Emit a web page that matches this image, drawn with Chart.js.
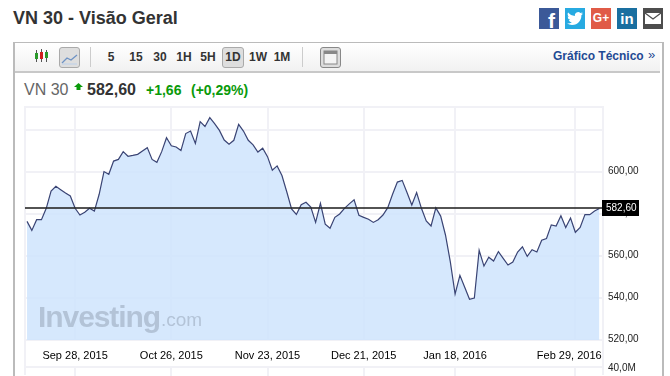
<!DOCTYPE html>
<html lang="pt">
<head>
<meta charset="utf-8">
<title>VN 30 - Visão Geral</title>
<script src="https://cdn.jsdelivr.net/npm/chart.js@4"></script>
<style>
html,body{margin:0;padding:0;background:#fff;width:670px;height:376px;overflow:hidden;font-family:"Liberation Sans",Arial,sans-serif}
.a{position:absolute;white-space:nowrap}
#box{left:13px;top:42px;width:647px;height:340px;border:2px solid #bbb;border-bottom:0;border-width:1px 2px 0 2px}
#bar{left:15px;top:43px;width:645px;height:28px;background:linear-gradient(#fff,#f1f1f1);border-bottom:2px solid #c8c8c8}
.t{top:49px;font:bold 12px "Liberation Sans";color:#333;line-height:16px;transform:translateX(-50%)}
.sep{top:47px;width:1px;height:20px;background:#ccc}
.btn{box-sizing:border-box;background:#dedede;border:1px solid #aaa;border-radius:3px}
.so{top:8px;width:20px;height:21px;color:#fff;text-align:center;font:bold 16px/21px "Liberation Sans"}
canvas{position:absolute;left:0;top:0}
</style>
</head>
<body>
<div class="a" style="left:13px;top:7px;font:bold 18px/22px 'Liberation Sans';color:#333">VN 30 - Visão Geral</div>

<div class="a so" style="left:539px;background:#3b5998;font-size:21px;text-align:right;width:16px;padding-right:4px;line-height:25px;overflow:hidden">f</div>
<div class="a so" style="left:565px;background:#27aae1"><svg width="20" height="21" viewBox="-3 -3 30 30" style="display:block"><path fill="#fff" d="M23.95 4.57a10 10 0 0 1-2.82.77 4.96 4.96 0 0 0 2.16-2.72c-.95.55-2 .95-3.12 1.17a4.92 4.92 0 0 0-8.38 4.48C7.69 8.09 4.07 6.13 1.64 3.16a4.82 4.82 0 0 0-.67 2.48c0 1.71.87 3.21 2.19 4.1a4.9 4.9 0 0 1-2.23-.62v.06a4.92 4.92 0 0 0 3.95 4.83 5 5 0 0 1-2.21.08 4.94 4.94 0 0 0 4.6 3.42A9.87 9.87 0 0 1 0 19.54a14 14 0 0 0 7.56 2.21c9.05 0 14-7.5 14-13.98 0-.21 0-.42-.02-.63a9.94 9.94 0 0 0 2.46-2.55z"/></svg></div>
<div class="a so" style="left:591px;background:#e05b47;font-size:12px">G+</div>
<div class="a so" style="left:617px;background:#1a6fa0;font-size:15px">in</div>
<div class="a so" style="left:643px;background:#4d4d4d"><svg width="20" height="21" style="display:block"><rect x="2" y="5" width="16" height="11" fill="#fff"/><path d="M2 5l8 6 8-6" fill="none" stroke="#4d4d4d" stroke-width="1.2"/></svg></div>

<div class="a" id="box"></div>
<div class="a" id="bar"></div>

<svg class="a" style="left:34px;top:49px" width="16" height="14"><path d="M2.5 1v12M7.5 0v13M12.5 1v12" stroke="#555" stroke-width="1"/><rect x="1" y="4" width="3" height="6" fill="#2a9a2a"/><rect x="6" y="3" width="3" height="7" fill="#d02020"/><rect x="11" y="3" width="3" height="6" fill="#2a9a2a"/></svg>
<div class="a btn" style="left:59px;top:47px;width:21px;height:21px"><svg width="19" height="19" style="display:block"><path d="M2 15l5-5 4 2 6-5" fill="none" stroke="#6f93c4" stroke-width="1.3"/><path d="M2 16h15" stroke="#bcd0ea"/></svg></div>
<div class="a sep" style="left:90px"></div>
<div class="a btn" style="left:222px;top:47px;width:22px;height:21px"></div>
<div class="a t" style="left:111px">5</div>
<div class="a t" style="left:136px">15</div>
<div class="a t" style="left:160px">30</div>
<div class="a t" style="left:184px">1H</div>
<div class="a t" style="left:208px">5H</div>
<div class="a t" style="left:233px">1D</div>
<div class="a t" style="left:258px">1W</div>
<div class="a t" style="left:282px">1M</div>
<div class="a sep" style="left:302px"></div>
<div class="a btn" style="left:320px;top:47px;width:21px;height:21px;background:#ddd;border-color:#888"><svg width="19" height="19" style="display:block"><rect x="3" y="3" width="13" height="13" fill="#f4f4f4" stroke="#888"/><rect x="3" y="3" width="13" height="3" fill="#888"/></svg></div>
<div class="a" style="left:553px;top:48px;font:bold 12px/16px 'Liberation Sans';color:#1f4a94">Gráfico Técnico</div>
<div class="a" style="left:648px;top:47px;font:13px/16px 'Liberation Sans';color:#1f4a94">»</div>

<div class="a" style="left:24px;top:81px;font:16px/18px 'Liberation Sans';color:#666">VN 30</div>
<svg class="a" style="left:74px;top:83px" width="9" height="7"><path d="M4.5 0L9 4H6.5V7H2.5V4H0z" fill="#0a9a0a"/></svg>
<div class="a" style="left:87px;top:81px;font:bold 16px/18px 'Liberation Sans';color:#333">582,60</div>
<div class="a" style="left:146px;top:82px;font:bold 14px/17px 'Liberation Sans';color:#0a9a0a">+1,66</div>
<div class="a" style="left:191px;top:82px;font:bold 14px/17px 'Liberation Sans';color:#0a9a0a">(+0,29%)</div>

<canvas id="c" width="670" height="376"></canvas>

<div class="a" style="left:38px;top:299px;font:bold 30px/36px 'Liberation Sans';letter-spacing:-1.07px;color:rgba(110,120,140,.33)">Investing</div>
<div class="a" style="left:161px;top:308px;font:19px/24px 'Liberation Sans';color:rgba(110,120,140,.33)">.com</div>
<div class="a" style="left:608px;top:361px;font:10px/13px 'Liberation Sans';color:#222">40,0M</div>

<script>
const closeValues = [
576.5,572.2,577.3,577.3,582.7,590.9,593.2,591.6,590.0,588.6,
582.7,579.5,580.8,582.7,581.4,589.4,600.2,598.9,605.2,606.0,
609.7,607.5,607.9,608.4,610.0,611.6,606.0,604.6,609.7,616.3,
612.5,611.9,610.2,618.3,619.5,613.6,624.0,621.7,625.9,623.0,
619.8,615.2,613.2,615.1,622.7,619.5,615.1,612.9,609.5,611.3,
607.3,600.8,602.9,598.3,590.6,582.4,579.8,584.4,585.6,583.3,
576.0,585.1,575.2,573.2,578.4,580.0,582.7,584.8,586.8,579.4,
578.4,577.5,576.0,577.3,579.5,583.0,589.4,595.2,596.0,590.2,
584.3,590.2,582.7,576.7,574.3,582.9,579.0,570.0,557.3,541.9,
550.8,545.1,539.4,540.0,562.7,555.2,559.4,557.6,562.1,558.9,
555.7,557.1,561.9,564.4,559.8,563.0,561.9,567.5,568.3,574.8,
574.3,579.2,573.6,578.1,571.3,573.6,579.7,579.7,581.4,582.6];
const dateTickIndex = [10,30,50,70,89,114];
const dateTickLabel = ["Sep 28, 2015","Oct 26, 2015","Nov 23, 2015","Dec 21, 2015","Jan 18, 2016","Feb 29, 2016    "];
const priceTickLabel = [600,580,560,540,520];
const lastPrice = 582.6;
const lastPriceLabel = "582,60";

const GRID = "#f1f1f6";
const frame = {
  id:"frame",
  afterDatasetsDraw(ch){
    const g=ch.ctx,a=ch.chartArea,x=ch.scales.x,y=ch.scales.y;
    g.save();
    g.fillStyle=GRID;
    g.fillRect(a.left-1,a.top-1,2,376-a.top);
    g.fillRect(a.right-1,a.top-1,2,376-a.top);
    g.fillRect(a.left,a.bottom+26,a.right-a.left,2);
    dateTickIndex.forEach(i=>g.fillRect(Math.round(x.getPixelForValue(i))-1,a.bottom+26,2,10));
    const py=Math.floor(y.getPixelForValue(lastPrice));
    g.fillStyle="rgba(40,40,40,.8)";
    g.fillRect(a.left,py-1,a.right-a.left+1,2);
    g.fillStyle="#000";
    g.fillRect(a.right-1,py-8,37,16);
    g.fillStyle="#fff";
    g.font='10px "Liberation Sans"';
    g.textAlign="left";g.textBaseline="middle";
    g.fillText(lastPriceLabel,a.right+3,py);
    g.restore();
  }
};
new Chart(document.getElementById("c"),{
  type:"line",
  data:{datasets:[{
    data:closeValues.map((v,i)=>({x:i,y:v})),
    borderColor:"#3a4474",borderWidth:1.2,pointRadius:0,tension:0,
    fill:"start",backgroundColor:"rgba(207,228,253,.85)"
  }]},
  plugins:[frame],
  options:{
    responsive:false,animation:false,devicePixelRatio:1,
    layout:{padding:{left:25,top:107,right:0,bottom:0}},
    plugins:{legend:{display:false},tooltip:{enabled:false}},
    scales:{
      x:{type:"linear",min:-0.42,max:119.75,
        afterFit(s){s.height=36},
        afterBuildTicks(s){s.ticks=dateTickIndex.map(v=>({value:v}))},
        grid:{color:GRID,lineWidth:2,drawTicks:false},border:{display:false},
        ticks:{autoSkip:false,maxRotation:0,padding:9,color:"#000",font:{family:"Liberation Sans",size:11},
          callback:v=>dateTickLabel[dateTickIndex.indexOf(v)]}
      },
      y:{position:"right",min:520,max:630.95,
        afterFit(s){s.width=67},
        grid:{color:GRID,lineWidth:2,drawTicks:false},border:{display:false},
        ticks:{stepSize:20,padding:5,labelOffset:-1,color:"#222",font:{family:"Liberation Sans",size:10},autoSkip:false,
          callback:v=>priceTickLabel.includes(v)?v.toFixed(2).replace(".",","):""}
      }
    }
  }
});
</script>
</body>
</html>
